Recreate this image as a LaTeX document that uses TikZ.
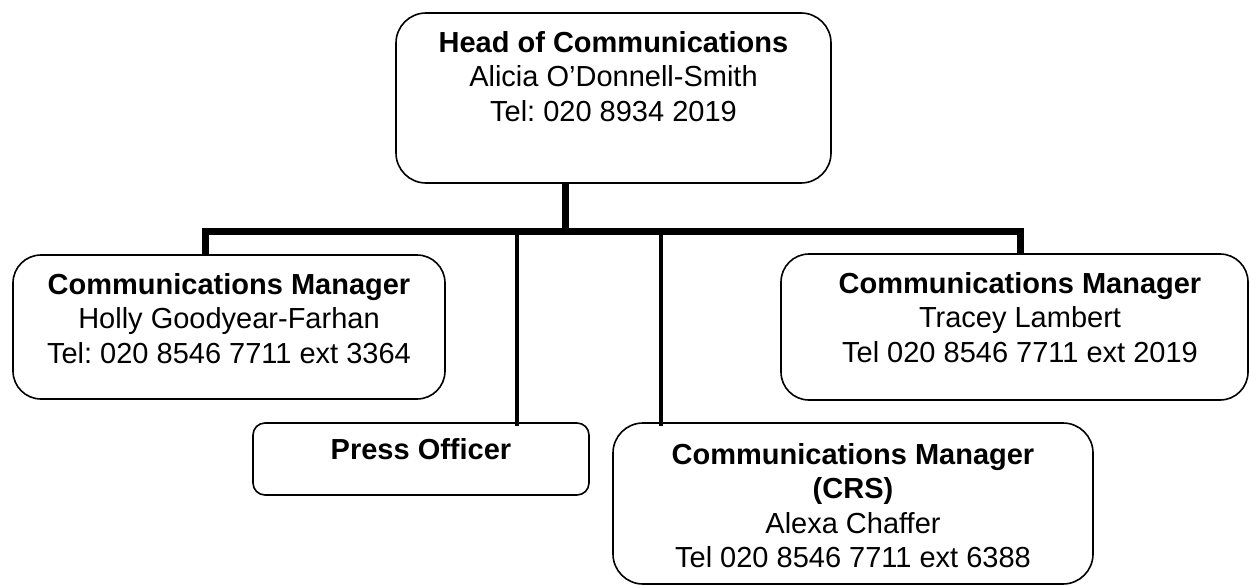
\documentclass[tikz,border=0pt]{standalone}
\usepackage{fontspec}
\setmainfont{Liberation Sans}
\frenchspacing
\begin{document}
\begin{tikzpicture}[x=1pt,y=-1pt,
  box/.style={draw=black, line width=1.6pt, fill=white, rounded corners=#1, inner sep=0pt},
  box/.default=28pt,
  txt/.style={anchor=north, inner sep=0pt, align=center, font=\fontsize{29}{34.5}\selectfont},
  bus/.style={line width=7pt, line join=miter},
  feed/.style={line width=4.5pt}]
\useasboundingbox (0,0) rectangle (1250,586);

% boxes
\node[box=30pt, minimum width=435pt, minimum height=170pt] (head) at (613.5,98) {};
\node[box, minimum width=432pt, minimum height=144pt] (cm1) at (229,327) {};
\node[box, minimum width=467pt, minimum height=146pt] (cm2) at (1014.5,327) {};
\node[box=12pt, minimum width=336pt, minimum height=72pt] (press) at (421,459) {};
\node[box=30pt, minimum width=480pt, minimum height=161pt] (crs) at (853,503.5) {};

% box texts
\node[txt] (headT) at ([yshift=-18.7pt]head.north)
  {\textbf{Head of Communications}\\Alicia O’Donnell-Smith\\Tel: 020 8934 2019};
\node[txt] (cm1T) at ([yshift=-18.7pt]cm1.north)
  {\textbf{Communications Manager}\\Holly Goodyear-Farhan\\Tel: 020 8546 7711 ext 3364};
\node[txt] (cm2T) at ([xshift=5.5pt,yshift=-18.7pt]cm2.north)
  {\textbf{Communications Manager}\\Tracey Lambert\\Tel 020 8546 7711 ext 2019};
\node[txt] (pressT) at ([yshift=-15.7pt]press.north) {\textbf{Press Officer}};
\node[txt] (crsT) at ([yshift=-20.7pt]crs.north)
  {\textbf{Communications Manager}\\\textbf{(CRS)}\\Alexa Chaffer\\Tel 020 8546 7711 ext 6388};

% connectors
\coordinate (jt) at (565,231.5);
\coordinate (bl) at (205,231.5);
\coordinate (br) at (1020,231.5);
\coordinate (jp) at (517,231.5);
\coordinate (jc) at (661,231.5);
\draw[bus] (jt |- head.south) -- (jt);
\draw[bus] (bl |- cm1.north) -- (bl) -- (br) -- (br |- cm2.north);
\draw[feed] (jp) -- ([yshift=-4pt]jp |- press.north);
\draw[feed] (jc) -- ([yshift=-4pt]jc |- crs.north);
\end{tikzpicture}
\end{document}
